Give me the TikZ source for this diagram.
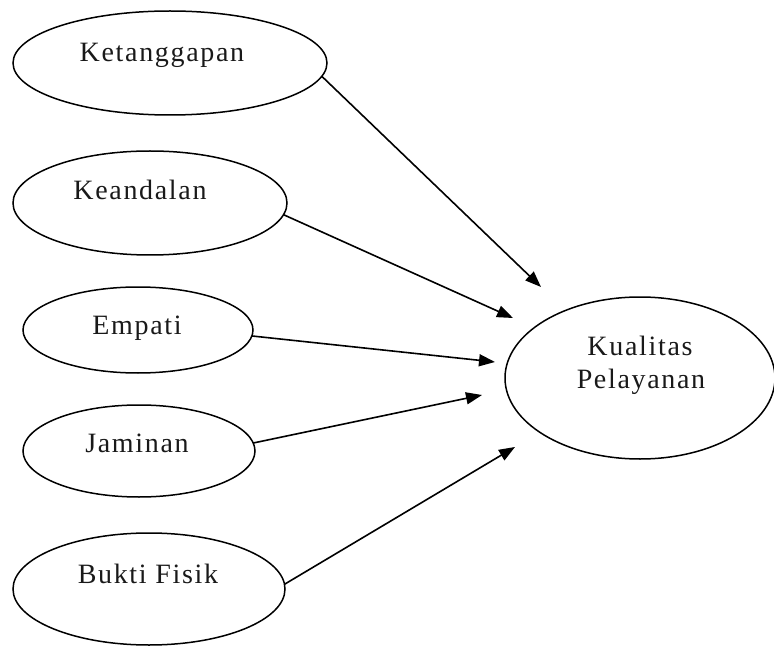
\documentclass[tikz,border=0pt]{standalone}
\usepackage{fontspec}
\setmainfont[LetterSpace=6]{Liberation Serif}
\usetikzlibrary{shapes.geometric,arrows.meta}
\begin{document}
\begin{tikzpicture}[x=1pt,y=-1pt,
  oval/.style={ellipse,draw,line width=1.5pt,inner sep=0pt,outer sep=0pt},
  txt/.style={anchor=base,inner sep=0pt,font=\fontsize{28}{33}\selectfont,text=black!90},
  link/.style={line width=1.6pt,-{Triangle[length=16pt,width=12pt]}}]
\useasboundingbox (0,0) rectangle (774,647);
% factor ellipses
\node[oval,minimum width=314pt,minimum height=104pt] (e1) at (170,63) {};
\node[oval,minimum width=274pt,minimum height=104pt] (e2) at (150,203) {};
\node[oval,minimum width=230pt,minimum height=86pt]  (e3) at (138,330) {};
\node[oval,minimum width=232pt,minimum height=92pt]  (e4) at (139,451) {};
\node[oval,minimum width=272pt,minimum height=112pt] (e5) at (149,589) {};
\node[oval,minimum width=270pt,minimum height=162pt] (kp) at (640,378) {};
% labels
\node[txt] (l1) at (162,62) {Ketanggapan};
\node[txt] (l2) at (140,200) {Keandalan};
\node[txt] (l3) at (137,334) {Empati};
\node[txt] (l4) at (137,452) {Jaminan};
\node[txt] (l5) at (148,583) {Bukti Fisik};
\node[txt] (l6) at (640,355) {Kualitas};
\node[txt] (l7) at (641,388) {Pelayanan};
% arrow tips near the outcome ellipse
\coordinate (t1) at (541,287);
\coordinate (t2) at (513,318);
\coordinate (t3) at (495,362);
\coordinate (t4) at (482,395);
\coordinate (t5) at (515,447);
\draw[link] (e1.-5) -- (t1);
\draw[link] (e2.-5) -- (t2);
\draw[link] (e3.-3) -- (t3);
\draw[link] (e4.4) -- (t4);
\draw[link] (e5.2.5) -- (t5);
\end{tikzpicture}
\end{document}
